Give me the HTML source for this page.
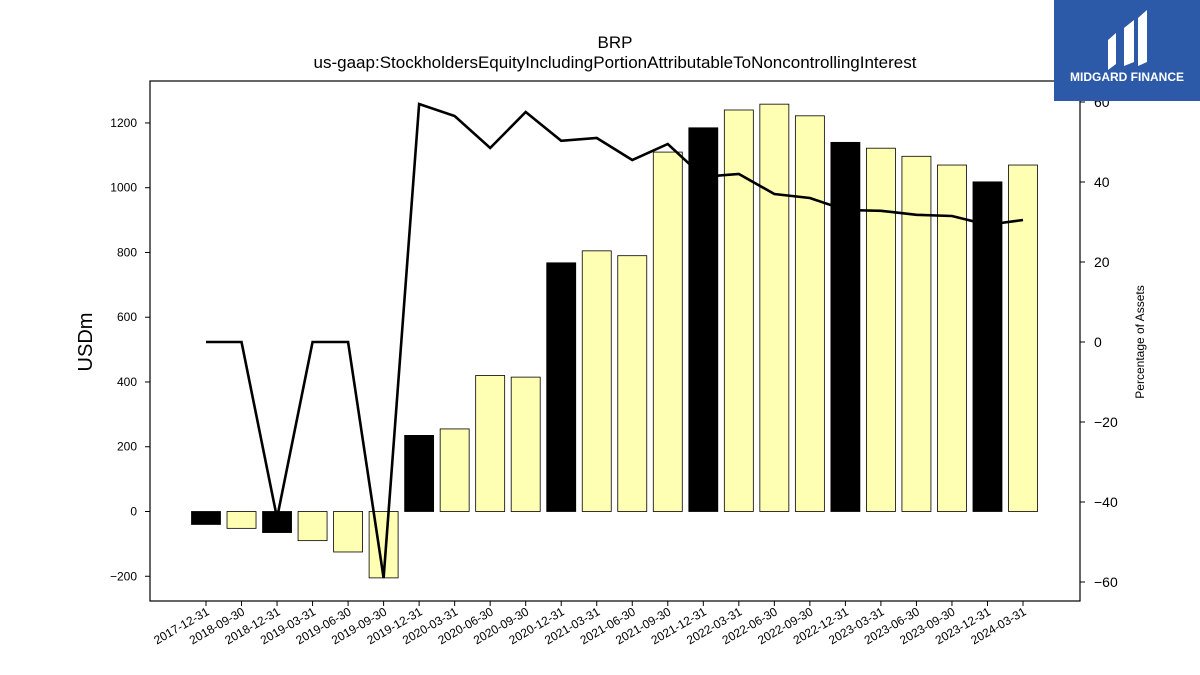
<!DOCTYPE html>
<html><head><meta charset="utf-8"><style>
body{margin:0;background:#fff;font-family:"Liberation Sans","DejaVu Sans",sans-serif}
svg{display:block}
</style></head><body>
<svg id="chart" width="1200" height="675" xmlns="http://www.w3.org/2000/svg">
<text x="615" y="48" font-size="17" text-anchor="middle">BRP</text>
<text x="615" y="68" font-size="17" text-anchor="middle">us-gaap:StockholdersEquityIncludingPortionAttributableToNoncontrollingInterest</text>
<g id="bars"></g>
<g id="line"></g>
<rect x="150" y="81" width="930" height="520" fill="none" stroke="#000" stroke-width="1.2"/>
<g id="axes" font-size="12"></g>
<text transform="translate(92,342) rotate(-90)" font-size="20" text-anchor="middle">USDm</text>
<text transform="translate(1144,342) rotate(-90)" font-size="12" text-anchor="middle">Percentage of Assets</text>
<g>
<rect x="1054" y="0" width="146" height="101" fill="#2c5aa8"/>
<path d="M1108 70 V40 L1116 33 V64 Z M1124 66 V28 L1134 20 V62 Z M1138 66 V18 L1147 10 V62 Z" fill="#fff"/>
<text x="1127" y="81" font-size="12" font-weight="bold" fill="#fff" text-anchor="middle">MIDGARD FINANCE</text>
</g>
</svg>
<script>
const categories=["2017-12-31","2018-09-30","2018-12-31","2019-03-31","2019-06-30","2019-09-30","2019-12-31","2020-03-31","2020-06-30","2020-09-30","2020-12-31","2021-03-31","2021-06-30","2021-09-30","2021-12-31","2022-03-31","2022-06-30","2022-09-30","2022-12-31","2023-03-31","2023-06-30","2023-09-30","2023-12-31","2024-03-31"];
const equity=[-40,-52,-65,-90,-125,-205,235,255,420,415,768,805,790,1110,1185,1240,1258,1222,1140,1122,1097,1070,1018,1070];
const pctAssets=[0,0,-44,0,0,-59,59.5,56.5,48.5,57.5,50.3,51,45.5,49.5,41.3,42,37,36,33,32.8,31.8,31.5,29.3,30.5];
const yearEnd=[1,0,1,0,0,0,1,0,0,0,1,0,0,0,1,0,0,0,1,0,0,0,1,0];
const leftTicks=[-200,0,200,400,600,800,1000,1200];
const rightTicks=[-60,-40,-20,0,20,40,60];
const NS="http://www.w3.org/2000/svg";
const x=i=>206+i*(1023-206)/(categories.length-1);
const y=v=>511.5-v*0.3238;
const y2=v=>342-v*4;
function mk(t,a,p){const e=document.createElementNS(NS,t);for(const k in a)e.setAttribute(k,a[k]);p.appendChild(e);return e;}
const bars=document.getElementById('bars'),line=document.getElementById('line'),axes=document.getElementById('axes');
equity.forEach((v,i)=>{
 const r=mk('rect',{x:x(i)-14.5,y:Math.min(y(v),y(0)),width:29,height:Math.abs(y(v)-y(0)),fill:yearEnd[i]?'#000':'#ffffb3',stroke:'#000','stroke-width':0.8},bars);
 
 
 const t=mk('line',{x1:x(i),x2:x(i),y1:601,y2:606,stroke:'#000'},axes);
 const l=mk('text',{transform:`translate(${x(i)+4},${614}) rotate(-30)`,'text-anchor':'end','font-size':12},axes);
 l.textContent=categories[i];
 
 
});
const p=mk('polyline',{points:pctAssets.map((v,i)=>x(i)+','+y2(v)).join(' '),fill:'none',stroke:'#000','stroke-width':2.6},line);


leftTicks.forEach(v=>{
 mk('line',{x1:145,x2:150,y1:y(v),y2:y(v),stroke:'#000'},axes);
 const t=mk('text',{x:137,y:y(v)+4,'text-anchor':'end'},axes);
 t.textContent=v<0?'\u2212'+(-v):v;
 
 
});
rightTicks.forEach(v=>{
 mk('line',{x1:1080,x2:1085,y1:y2(v),y2:y2(v),stroke:'#000'},axes);
 const t=mk('text',{x:1094,y:y2(v)+5,'font-size':14},axes);
 t.textContent=v<0?'\u2212'+(-v):v;
 
 
});
</script>
</body></html>
